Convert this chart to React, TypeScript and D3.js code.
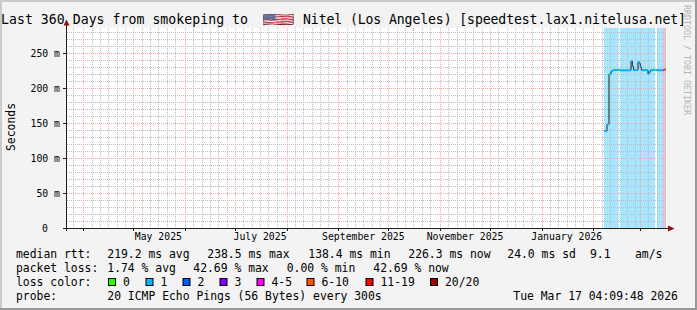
import React from "react";
import * as d3 from "d3";

// ---- data ----
const rangeStart = "2025-03-22T04:09:48";
const rangeEnd = "2026-03-17T04:09:48";

const sampleTimes = [
  "2026-02-07T09:00", "2026-02-09T04:00", "2026-02-10T09:00", "2026-02-11T14:00",
  "2026-02-12T18:00", "2026-02-16T00:00", "2026-02-16T20:00", "2026-02-23T14:00",
  "2026-02-24T09:00", "2026-02-25T02:00", "2026-02-27T19:00", "2026-02-28T14:00",
  "2026-03-01T04:00", "2026-03-01T19:00", "2026-03-05T19:00", "2026-03-06T09:00",
  "2026-03-07T09:00", "2026-03-09T23:00", "2026-03-10T23:00", "2026-03-14T18:00",
  "2026-03-15T14:00",
];
const seriesEnd = "2026-03-16T12:00";
const medianMs = [
  138.4, 148, 220, 224, 225.7, 226, 225.2, 238.5, 231, 225.5, 237, 235, 230, 225.5,
  220, 223, 225.7, 226, 225.3, 225.5, 226.3,
];
const lossPct = [
  1.5, 1.5, 1.5, 1.5, 1.5, 0, 1.5, 1.5, 1.5, 1.5, 1.5, 1.5, 1.5, 1.5, 1.5, 1.5, 1.5,
  0, 1.5, 22, 42.69,
];

const yTickValues = [0, 50, 100, 150, 200, 250];
const yTickLabels = ["0", "50 m", "100 m", "150 m", "200 m", "250 m"];
const monthLabels = ["May 2025", "July 2025", "September 2025", "November 2025", "January 2026"];
const monthLabelDates = [
  "2025-05-16T00:00", "2025-07-16T00:00", "2025-09-16T00:00", "2025-11-16T00:00", "2026-01-16T00:00",
];

const lossLabels = ["0", "1", "2", "3", "4-5", "6-10", "11-19", "20/20"];
const lossColors = ["#26ff00", "#00b8ff", "#0059ff", "#7e00ff", "#ff00ff", "#ff5500", "#ff0000", "#a10000"];
const lossUpper = [0, 1, 2, 3, 5, 10, 19, 20];

const titlePrefix = "Last 360 Days from smokeping to";
const titleFlag = "🇺🇸";
const titleSuffix = "Nitel (Los Angeles) [speedtest.lax1.nitelusa.net]";
const rttLabel = "median rtt:";
const rttStats = ["219.2 ms avg", "238.5 ms max", "138.4 ms min", "226.3 ms now", "24.0 ms sd", "9.1", "am/s"];
const lossLabel = "packet loss:";
const lossStats = ["1.74 % avg", "42.69 % max", "0.00 % min", "42.69 % now"];
const probeLabel = "probe:";
const probeText = "20 ICMP Echo Pings (56 Bytes) every 300s";
const stampText = "Tue Mar 17 04:09:48 2026";
const yAxisTitle = "Seconds";
const watermark = "RRDTOOL / TOBI OETIKER";

// ---- layout ----
const W = 697, H = 310;
const PX0 = 67, PX1 = 667, PY0 = 28, PY1 = 228;
const FONT = "'DejaVu Sans Mono', monospace";
const rttX = [107.3, 207.3, 308.3, 408.3, 507.3, 590, 635];
const lossX = [107.3, 193.3, 286.7, 373.3];
const boxX = [108, 145.5, 182.5, 219.5, 256.5, 306.5, 365.5, 430];

function lossIndex(p: number) {
  const pings = (p / 100) * 20;
  if (pings <= 0) return 0;
  for (let i = 1; i < lossUpper.length; i++) if (pings <= lossUpper[i]) return i;
  return lossUpper.length - 1;
}

export default function App() {
  const t0 = new Date(rangeStart);
  const t1 = new Date(rangeEnd);
  const x = d3.scaleTime().domain([t0, t1]).range([PX0, PX1]);
  const y = d3.scaleLinear().domain([0, 285.714]).range([PY1, PY0]);

  const times = sampleTimes.map((s) => new Date(s));
  const tEnd = new Date(seriesEnd);
  const pts = times.map((t, i) => ({ t, v: medianMs[i], l: lossIndex(lossPct[i]), t2: i + 1 < times.length ? times[i + 1] : tEnd }));

  const months = d3.timeMonth.range(t0, t1);
  const minorDays = d3.timeDay.every(5)!.range(t0, t1).filter((d) => d.getDate() !== 1 && d.getDate() !== 31);
  const minorY = d3.range(10, 286, 10).filter((v) => v % 50 !== 0);
  const majorY = yTickValues.filter((v) => v > 0);

  const px = (v: number) => Math.round(v) + 0.5;

  const stepLine = d3
    .line<{ t: Date; v: number }>()
    .x((d) => x(d.t))
    .y((d) => y(d.v))
    .curve(d3.curveStepAfter);
  const stepData = [...pts.map((p) => ({ t: p.t, v: p.v })), { t: tEnd, v: medianMs[medianMs.length - 1] }];

  return (
    <svg width={W} height={H} style={{ display: "block", position: "absolute", left: 0, top: 0 }} fontFamily={FONT}>
      <rect x={0} y={0} width={W} height={H} fill="#f3f3f3" />
      {/* 3D frame */}
      <rect x={0} y={0} width={W} height={2} fill="#cbcbcb" />
      <rect x={0} y={0} width={2} height={H} fill="#cbcbcb" />
      <rect x={0} y={H - 2} width={W} height={2} fill="#999999" />
      <rect x={W - 2} y={0} width={2} height={H} fill="#999999" />

      {/* canvas */}
      <rect x={PX0} y={PY0} width={PX1 - PX0} height={PY1 - PY0} fill="#ffffff" />

      {/* loss background */}
      {pts.map((p, i) =>
        p.l > 0 ? (
          <rect
            key={"bg" + i}
            x={Math.round(x(p.t))}
            y={PY0}
            width={Math.max(1, Math.round(x(p.t2)) - Math.round(x(p.t)))}
            height={PY1 - PY0}
            fill={lossColors[p.l]}
            fillOpacity={0.35}
          />
        ) : null
      )}

      {/* minor grid */}
      <g stroke="#bdbdbd" strokeWidth={1} strokeDasharray="1,1">
        {minorY.map((v) => (
          <line key={"my" + v} x1={PX0} x2={PX1} y1={px(y(v))} y2={px(y(v))} />
        ))}
        {minorDays.map((d, i) => (
          <line key={"mx" + i} x1={px(x(d))} x2={px(x(d))} y1={PY0} y2={PY1} />
        ))}
      </g>
      {/* major grid */}
      <g stroke="#f5a5a5" strokeWidth={1} strokeDasharray="1,1">
        {majorY.map((v) => (
          <line key={"My" + v} x1={PX0} x2={PX1} y1={px(y(v))} y2={px(y(v))} />
        ))}
        {months.map((d, i) => (
          <line key={"Mx" + i} x1={px(x(d))} x2={px(x(d))} y1={PY0} y2={PY1} />
        ))}
      </g>

      {/* median line */}
      <path d={stepLine(stepData) || ""} fill="none" stroke="#202020" strokeWidth={1} />
      {pts.map((p, i) => (
        <line
          key={"seg" + i}
          x1={x(p.t)}
          x2={x(p.t2)}
          y1={y(p.v)}
          y2={y(p.v)}
          stroke={lossColors[p.l]}
          strokeWidth={2}
        />
      ))}

      {/* axes */}
      <g stroke="#1f1f1f" strokeWidth={1}>
        <line x1={63} x2={670} y1={PY1 + 0.5} y2={PY1 + 0.5} />
        <line x1={PX0 - 0.5} x2={PX0 - 0.5} y1={231} y2={25} />
        {yTickValues.map((v) => (
          <line key={"yt" + v} x1={63} x2={PX0} y1={px(y(v))} y2={px(y(v))} />
        ))}
        {months.map((d, i) => (
          <line key={"xt" + i} x1={px(x(d))} x2={px(x(d))} y1={PY1} y2={PY1 + 3} />
        ))}
      </g>
      <polygon points="668,225.5 668,231.5 674.5,228.5" fill="#8e0f0f" />
      <polygon points="63.5,25.5 69.5,25.5 66.5,19.5" fill="#8e0f0f" />

      {/* y tick labels */}
      <g fontSize={9.8} fill="#000" textAnchor="end">
        {yTickValues.map((v, i) => (
          <text key={"yl" + v} x={v === 0 ? 48 : 60} y={px(y(v)) + 3.5}>
            {yTickLabels[i]}
          </text>
        ))}
      </g>
      {/* x labels */}
      <g fontSize={9.8} fill="#000" textAnchor="middle">
        {monthLabels.map((m, i) => (
          <text key={m} x={x(new Date(monthLabelDates[i]))} y={240}>
            {m}
          </text>
        ))}
      </g>

      {/* y axis title */}
      <text x={0} y={0} fontSize={11.4} textAnchor="middle" transform="translate(15,127) rotate(-90)">
        {yAxisTitle}
      </text>

      {/* title */}
      <text fontSize={13.2} y={24} fill="#000">
        <tspan x={1} textLength={247} lengthAdjust="spacing">{titlePrefix}</tspan>
        <tspan x={262} textLength={32} lengthAdjust="spacingAndGlyphs">{titleFlag}</tspan>
        <tspan x={303} textLength={383} lengthAdjust="spacing">{titleSuffix}</tspan>
      </text>

      {/* watermark */}
      <text
        fontSize={8.3}
        fill="#b5b5b5"
        transform="translate(683.5,5) rotate(90)"
        textLength={110}
        lengthAdjust="spacing"
      >
        {watermark}
      </text>

      {/* legend */}
      <g fontSize={11.4} fill="#000">
        <text x={16} y={258}>{rttLabel}</text>
        {rttStats.map((s, i) => (
          <text key={"r" + i} x={rttX[i]} y={258}>{s}</text>
        ))}
        <text x={16} y={272}>{lossLabel}</text>
        {lossStats.map((s, i) => (
          <text key={"l" + i} x={lossX[i]} y={272}>{s}</text>
        ))}
        <text x={16} y={286}>loss color:</text>
        {lossLabels.map((s, i) => (
          <g key={"lc" + i}>
            <rect x={boxX[i] + 0.5} y={278.5} width={7} height={7} fill={lossColors[i]} stroke="#000" strokeWidth={1} />
            <text x={boxX[i] + 15} y={286}>{s}</text>
          </g>
        ))}
        <text x={16} y={300}>{probeLabel}</text>
        <text x={107.3} y={300}>{probeText}</text>
        <text x={513.3} y={300}>{stampText}</text>
      </g>
    </svg>
  );
}
